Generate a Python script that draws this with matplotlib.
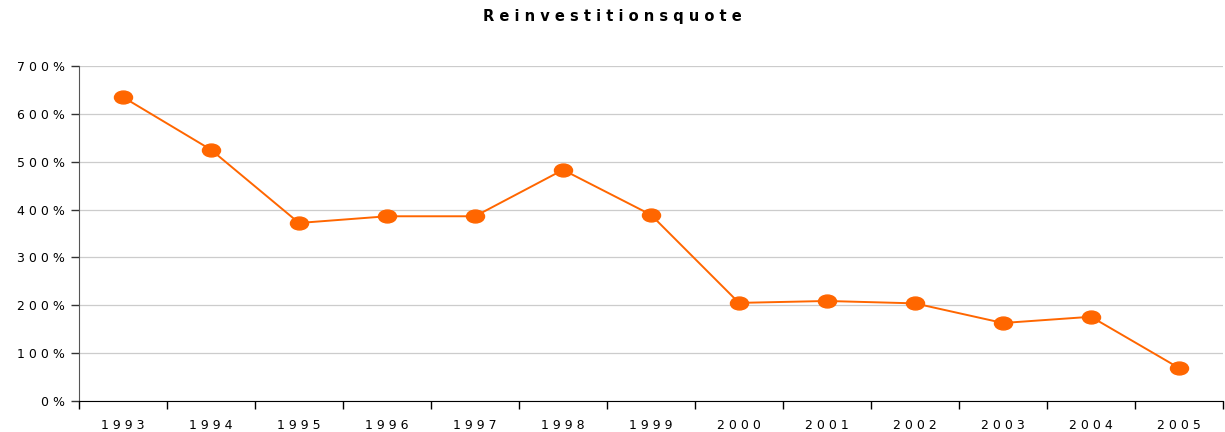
import matplotlib
matplotlib.use('Agg')
import matplotlib.pyplot as plt
from matplotlib.path import Path
from matplotlib.transforms import Affine2D
from matplotlib import ticker

years = ['1993', '1994', '1995', '1996', '1997', '1998', '1999',
         '2000', '2001', '2002', '2003', '2004', '2005']
quote = [635, 525, 372, 386, 386, 483, 389, 205, 209, 204, 163, 176, 69]
y_ticks = [0, 100, 200, 300, 400, 500, 600, 700]

ORANGE = '#FF6600'


def spaced(s):
    return ' '.join(s)


plt.rcParams['font.family'] = ['DejaVu Sans']

fig = plt.figure(figsize=(12.25, 4.32), dpi=100)
ax = fig.add_axes([79 / 1225, 1 - 401 / 432, (1223 - 79) / 1225, (401 - 66) / 432])

# ellipse marker, wider than tall
ellipse = Path.unit_circle().transformed(Affine2D().scale(1.4, 1.0))

x = list(range(len(years)))
ax.plot(x, quote, color=ORANGE, linewidth=1.4, marker=ellipse,
        markersize=13, markerfacecolor=ORANGE, markeredgecolor=ORANGE, zorder=3)

ax.set_xlim(-0.5, len(years) - 0.5)
ax.set_ylim(0, 700)

ax.set_yticks(y_ticks)
ax.set_yticklabels([spaced(f'{v}%') for v in y_ticks], fontsize=9)
ax.yaxis.grid(True, color='#cccccc', linewidth=0.9)
ax.set_axisbelow(True)

ax.set_xticks(x)
ax.set_xticklabels([spaced(y) for y in years], fontsize=9)
ax.xaxis.set_minor_locator(ticker.FixedLocator([i - 0.5 for i in range(len(years) + 1)]))
ax.tick_params(axis='x', which='major', length=0, pad=13)
ax.tick_params(axis='x', which='minor', length=6, width=1, color='black', direction='out')
ax.tick_params(axis='y', length=6, width=1, color='#333333', direction='out', pad=4)

for side in ('top', 'right'):
    ax.spines[side].set_visible(False)
ax.spines['left'].set_color('#555555')
ax.spines['bottom'].set_color('black')

fig.text(0.5, 1 - 17 / 432, spaced('Reinvestitionsquote'), ha='center', va='center',
         fontsize=10.5, fontweight='heavy')

fig.savefig('out.png', dpi=100)
